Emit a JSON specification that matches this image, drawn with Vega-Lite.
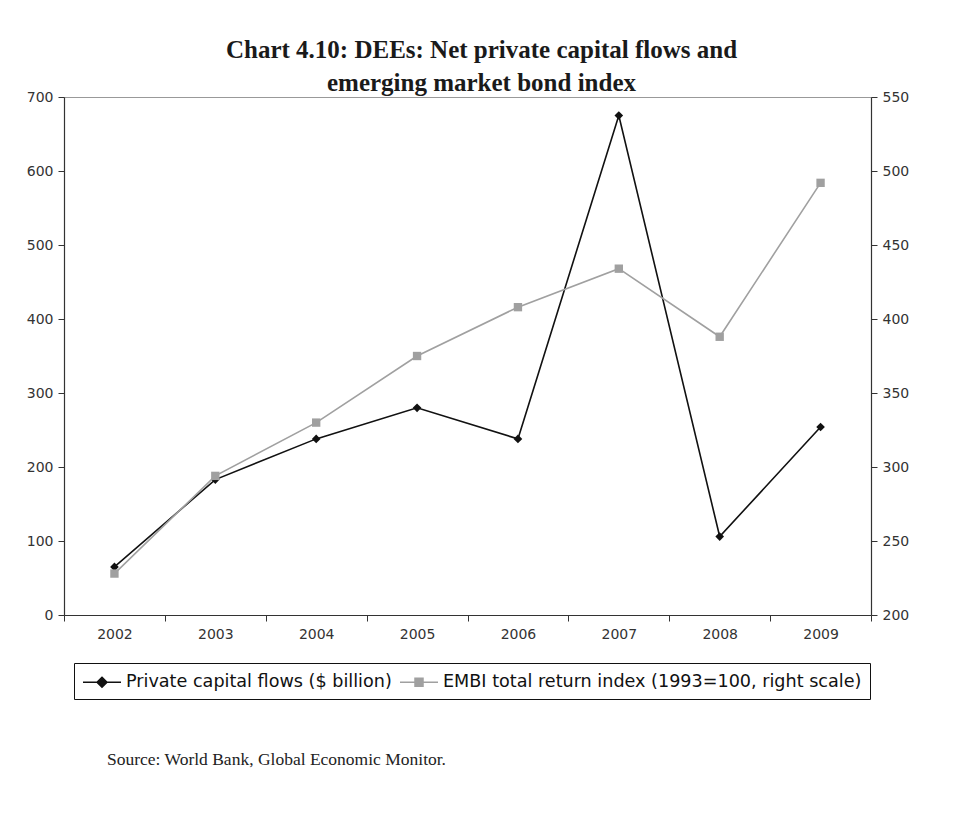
{
  "$schema": "https://vega.github.io/schema/vega-lite/v6.json",
  "background": "white",
  "padding": {"left": 25, "top": 37, "right": 10, "bottom": 10},
  "title": {
    "text": "Source: World Bank, Global Economic Monitor.",
    "orient": "bottom",
    "anchor": "start",
    "frame": "group",
    "font": "Liberation Serif",
    "fontSize": 17.5,
    "fontWeight": "normal",
    "color": "#222222",
    "offset": 51,
    "dx": 43
  },
  "config": {
    "view": {"stroke": "#999999", "strokeWidth": 1},
    "axis": {
      "labelFont": "DejaVu Sans",
      "labelFontSize": 14,
      "labelColor": "#333333",
      "domainColor": "#333333",
      "domainWidth": 1.2,
      "tickColor": "#333333",
      "tickSize": 6,
      "grid": false,
      "labelPadding": 5
    },
    "legend": {
      "orient": "none",
      "legendX": 10,
      "legendY": 566,
      "direction": "horizontal",
      "title": null,
      "strokeColor": "#111111",
      "strokeWidth": 1,
      "padding": 8,
      "labelFont": "DejaVu Sans",
      "labelFontSize": 17.6,
      "labelColor": "#111111",
      "labelLimit": 600,
      "symbolSize": 400,
      "labelOffset": 22,
      "columnPadding": 5
    }
  },
  "vconcat": [
    {
      "width": 807,
      "height": 518,
      "title": {
        "text": ["Chart 4.10: DEEs: Net private capital flows and", "emerging market bond index"],
        "font": "Liberation Serif",
        "fontSize": 25,
        "fontWeight": "bold",
        "color": "#1a1a1a",
        "lineHeight": 33,
        "offset": -6,
        "anchor": "middle",
        "frame": "group",
        "dx": 14
      },
      "data": {
        "values": [
          {"year": "2002", "series": "Private capital flows ($ billion)", "value": 65},
          {"year": "2003", "series": "Private capital flows ($ billion)", "value": 183},
          {"year": "2004", "series": "Private capital flows ($ billion)", "value": 238},
          {"year": "2005", "series": "Private capital flows ($ billion)", "value": 280},
          {"year": "2006", "series": "Private capital flows ($ billion)", "value": 238},
          {"year": "2007", "series": "Private capital flows ($ billion)", "value": 675},
          {"year": "2008", "series": "Private capital flows ($ billion)", "value": 106},
          {"year": "2009", "series": "Private capital flows ($ billion)", "value": 254},
          {"year": "2002", "series": "EMBI total return index (1993=100, right scale)", "value": 228},
          {"year": "2003", "series": "EMBI total return index (1993=100, right scale)", "value": 294},
          {"year": "2004", "series": "EMBI total return index (1993=100, right scale)", "value": 330},
          {"year": "2005", "series": "EMBI total return index (1993=100, right scale)", "value": 375},
          {"year": "2006", "series": "EMBI total return index (1993=100, right scale)", "value": 408},
          {"year": "2007", "series": "EMBI total return index (1993=100, right scale)", "value": 434},
          {"year": "2008", "series": "EMBI total return index (1993=100, right scale)", "value": 388},
          {"year": "2009", "series": "EMBI total return index (1993=100, right scale)", "value": 492}
        ]
      },
      "encoding": {
        "x": {
          "field": "year",
          "type": "ordinal",
          "scale": {"type": "band", "paddingInner": 0, "paddingOuter": 0},
          "axis": {"title": null, "labelAngle": 0, "tickBand": "extent", "labelPadding": 6}
        }
      },
      "layer": [
        {
          "transform": [{"filter": "datum.series == 'Private capital flows ($ billion)'"}],
          "encoding": {
            "y": {
              "field": "value",
              "type": "quantitative",
              "scale": {"domain": [0, 700], "nice": false},
              "axis": {"title": null, "orient": "left", "values": [0, 100, 200, 300, 400, 500, 600, 700]}
            },
            "color": {
              "field": "series",
              "type": "nominal",
              "scale": {
                "domain": ["Private capital flows ($ billion)", "EMBI total return index (1993=100, right scale)"],
                "range": ["#111111", "#a0a0a0"]
              },
              "legend": {
                "encode": {
                  "symbols": {
                    "update": {
                      "shape": {"signal": "datum.value == 'Private capital flows ($ billion)' ? 'M-1,0H2.8M0.9,-0.5L1.4,0L0.9,0.5L0.4,0Z' : 'M-1,0H2.8M0.5,-0.4H1.3V0.4H0.5Z'"},
                      "fill": {"signal": "datum.value == 'Private capital flows ($ billion)' ? '#111111' : '#a0a0a0'"},
                      "stroke": {"signal": "datum.value == 'Private capital flows ($ billion)' ? '#111111' : '#a0a0a0'"},
                      "strokeWidth": {"value": 1.5},
                      "opacity": {"value": 1}
                    }
                  }
                }
              }
            }
          },
          "layer": [
            {"mark": {"type": "line", "strokeWidth": 1.6}},
            {"mark": {"type": "point", "shape": "diamond", "filled": true, "size": 75, "opacity": 1}}
          ]
        },
        {
          "transform": [{"filter": "datum.series == 'EMBI total return index (1993=100, right scale)'"}],
          "encoding": {
            "y": {
              "field": "value",
              "type": "quantitative",
              "scale": {"domain": [200, 550], "nice": false, "zero": false},
              "axis": {"title": null, "orient": "right", "values": [200, 250, 300, 350, 400, 450, 500, 550]}
            },
            "color": {"field": "series", "type": "nominal"}
          },
          "layer": [
            {"mark": {"type": "line", "strokeWidth": 1.6}},
            {"mark": {"type": "point", "shape": "square", "filled": true, "size": 70, "opacity": 1}}
          ]
        }
      ],
      "resolve": {"scale": {"y": "independent"}}
    }
  ]
}
